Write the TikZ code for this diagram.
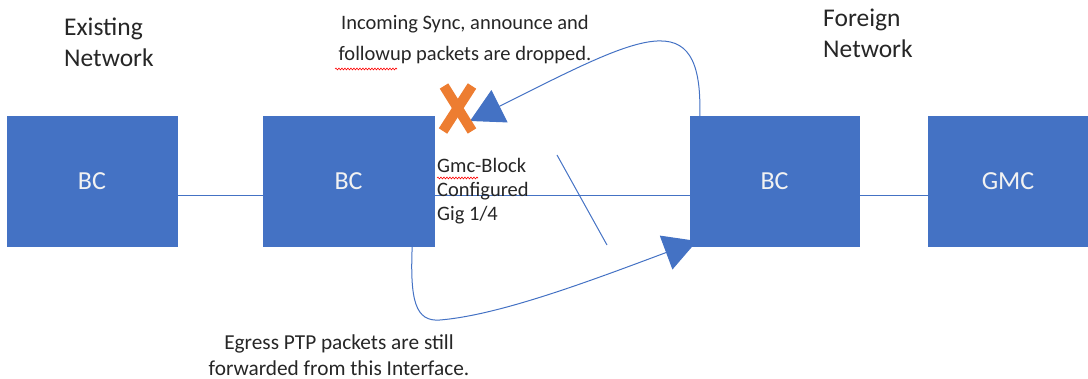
\documentclass[tikz,border=0pt]{standalone}
\usepackage{fontspec}
\setmainfont{Carlito}
\usetikzlibrary{arrows.meta,decorations.pathmorphing}
\definecolor{boxblue}{HTML}{4472C4}
\definecolor{xorange}{HTML}{ED7D31}
\definecolor{txt}{HTML}{262626}
\begin{document}
\begin{tikzpicture}[x=1pt,y=-1pt,
  device/.style={draw=boxblue,fill=boxblue,minimum height=130pt,inner sep=0pt,
    text=white!95!black,font=\fontsize{26}{30}\selectfont},
  link/.style={draw=boxblue,line width=1pt},
  flow/.style={draw=boxblue,line width=1pt,
    -{Triangle[length=33pt,width=36pt,fill=boxblue]}},
  title/.style={text=txt,align=left,inner sep=0pt,font=\fontsize{25.5}{31}\selectfont},
  note/.style={text=txt,inner sep=0pt},
  spell/.style={draw=red,line width=0.6pt,decorate,
    decoration={snake,amplitude=0.9pt,segment length=3pt}}]
\useasboundingbox (0,0) rectangle (1088,379);

% network devices
\node[device,minimum width=170pt] (bc1) at (92,181) {BC};
\node[device,minimum width=171pt] (bc2) at (348.5,181) {BC};
\node[device,minimum width=169pt] (bc3) at (774.5,181) {BC};
\node[device,minimum width=160pt] (gmc) at (1008,181) {GMC};

% links
\draw[link] ([yshift=-15pt]bc1.east) -- ([yshift=-15pt]bc2.west);
\draw[link] ([yshift=-15pt]bc2.east) -- ([yshift=-15pt]bc3.west);
\draw[link] ([yshift=-15pt]bc3.east) -- ([yshift=-15pt]gmc.west);

% network titles
\node[title,anchor=west] (existing) at (64,42.5) {Existing\\Network};
\node[title,anchor=west] (foreign) at (823,33) {Foreign\\Network};

% notes
\node[note,align=center,font=\fontsize{20.5}{31}\selectfont] (incoming) at (465,39.5)
  {Incoming Sync, announce and\\followup packets are dropped.};
\node[note,align=left,anchor=west,font=\fontsize{20.5}{24}\selectfont] (gmcblock) at (437,191)
  {Gmc-Block\\Configured\\Gig 1/4};
\node[note,align=center,font=\fontsize{21.3}{26.5}\selectfont] (egress) at (339,355)
  {Egress PTP packets are still\\forwarded from this Interface.};

% spelling marks
\draw[spell] (335,69) -- (397,69);
\draw[spell] (437,178) -- (478,178);

% dropped packets
\coordinate (droptip) at (470,121);
\draw[flow] ([xshift=10pt]bc3.north west) .. controls (703,0) and (640,36) .. (droptip);
\draw[xorange,line width=10pt] (444,86) -- (472,131);
\draw[xorange,line width=10pt] (472,86) -- (443,131);

% forwarded packets
\coordinate (fwdtip) at (697,241);
\draw[flow] ([xshift=-22pt]bc2.south east) .. controls (410,300) and (415,322) .. (440,320)
  .. controls (500,315) and (590,281) .. (fwdtip);

% stray stroke
\coordinate (s1) at (557,155);
\coordinate (s2) at (607,245);
\draw[boxblue,line width=1pt] (s1) -- (s2);
\end{tikzpicture}
\end{document}
